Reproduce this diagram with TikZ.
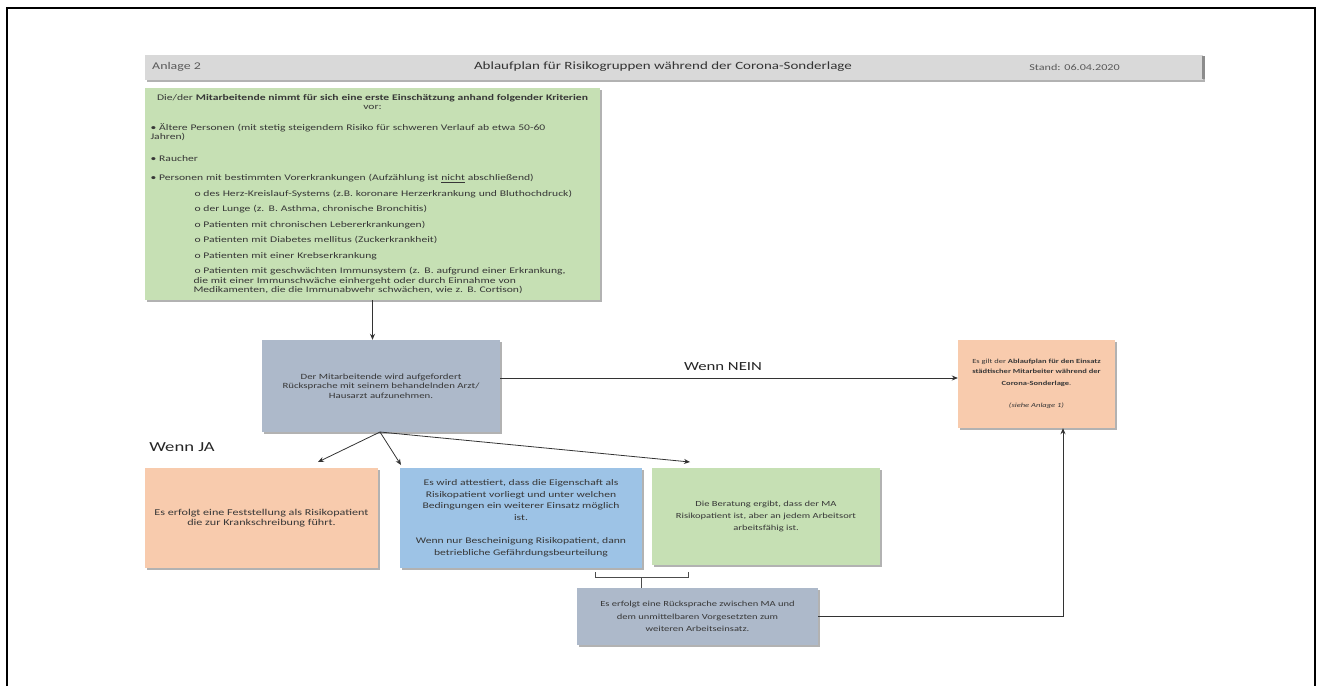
\documentclass[tikz,border=0pt]{standalone}
\usepackage{fontspec}
\setmainfont{Carlito}[FakeStretch=1.35]
\usetikzlibrary{shadows,arrows.meta,calc}
\definecolor{grn}{RGB}{198,224,180}
\definecolor{bgr}{RGB}{173,185,202}
\definecolor{org}{RGB}{248,203,173}
\definecolor{blu}{RGB}{157,195,230}
\definecolor{hdr}{RGB}{217,217,217}
\definecolor{txt}{RGB}{55,55,55}
\newcommand{\fs}[1]{\fontsize{#1}{9.5}\selectfont}
\begin{document}
\begin{tikzpicture}[x=1pt,y=-1pt,
  box/.style={rectangle, inner sep=0pt, align=center, text=txt,
    drop shadow={shadow xshift=2pt, shadow yshift=-2pt, fill=black, opacity=0.3}},
  arr/.style={draw=black!80, line width=0.8pt, -{Stealth[length=6pt,width=5pt]}},
  lne/.style={draw=black!70, line width=0.8pt},
  big/.style={text=black!85, inner sep=0pt}]
\useasboundingbox (0,0) rectangle (1320,686);
\fill[white] (0,0) rectangle (1320,686);
\draw[line width=2pt] (7,686) -- (7,8) -- (1315,8) -- (1315,686);

% header
\node[box, fill=hdr, minimum width=1058pt, minimum height=25pt] (hdr) at (674,67.5) {};
\fill[black!45] (1202,56) rectangle (1205,79);
\node[anchor=west, text=black!65, font=\fontsize{10.3}{11}\selectfont, inner sep=0pt] (anl) at (152,67) {Anlage 2};
\node[text=black!80, font=\fontsize{11.1}{12}\selectfont, inner sep=0pt] (tit) at (663,67) {Ablaufplan für Risikogruppen während der Corona-Sonderlage};
\node[anchor=east, text=black!65, font=\fontsize{9}{10}\selectfont, inner sep=0pt] (std) at (1120,67) {Stand: 06.04.2020};

% top green box
\node[box, fill=grn, minimum width=455pt, minimum height=212pt, text width=444pt, align=left,
  font=\fs{8.6}] (top) at (372.5,194) {%
\makebox[\linewidth][c]{Die/der \textbf{Mitarbeitende nimmt für sich eine erste Einschätzung anhand folgender Kriterien}}\\
\makebox[\linewidth][c]{vor:}\\[11pt]
\textbullet\ Ältere Personen (mit stetig steigendem Risiko für schweren Verlauf ab etwa 50-60\\
Jahren)\\[12pt]
\textbullet\ Raucher\\[10pt]
\textbullet\ Personen mit bestimmten Vorerkrankungen (Aufzählung ist \underline{nicht} abschließend)\\[6pt]
\hspace*{44pt}o des Herz-Kreislauf-Systems (z.B. koronare Herzerkrankung und Bluthochdruck)\\[6pt]
\hspace*{44pt}o der Lunge (z. B. Asthma, chronische Bronchitis)\\[6pt]
\hspace*{44pt}o Patienten mit chronischen Lebererkrankungen)\\[6pt]
\hspace*{44pt}o Patienten mit Diabetes mellitus (Zuckerkrankheit)\\[6pt]
\hspace*{44pt}o Patienten mit einer Krebserkrankung\\[6pt]
\hspace*{44pt}o Patienten mit geschwächten Immunsystem (z. B. aufgrund einer Erkrankung,\\
\hspace*{43pt}die mit einer Immunschwäche einhergeht oder durch Einnahme von\\
\hspace*{43pt}Medikamenten, die die Immunabwehr schwächen, wie z. B. Cortison)};

% middle
\node[box, fill=bgr, minimum width=238pt, minimum height=92pt, font=\fs{8}] (mid) at (381,386)
 {Der Mitarbeitende wird aufgefordert\\Rücksprache mit seinem behandelnden Arzt/\\Hausarzt aufzunehmen.};

\node[box, fill=org, minimum width=157pt, minimum height=88pt, font=\fs{6.3}] (rgt) at (1036.5,384)
 {Es gilt der \textbf{Ablaufplan für den Einsatz}\\\textbf{städtischer Mitarbeiter während der}\\[3pt]\textbf{Corona-Sonderlage}.\\[12pt]\textit{(siehe Anlage 1)}};

\node[box, fill=org, minimum width=233pt, minimum height=100pt, font=\fs{9}] (lft) at (261.5,518)
 {Es erfolgt eine Feststellung als Risikopatient\\die zur Krankschreibung führt.};

\node[box, fill=blu, minimum width=242pt, minimum height=100pt, font=\fontsize{8.6}{11.5}\selectfont] (blu) at (521,518)
 {Es wird attestiert, dass die Eigenschaft als\\Risikopatient vorliegt und unter welchen\\Bedingungen ein weiterer Einsatz möglich\\ist.\\[12pt]Wenn nur Bescheinigung Risikopatient, dann\\betriebliche Gefährdungsbeurteilung};

\node[box, fill=grn, minimum width=228pt, minimum height=97pt, font=\fontsize{7.8}{12}\selectfont] (gr2) at (766,516.5)
 {Die Beratung ergibt, dass der MA\\Risikopatient ist, aber an jedem Arbeitsort\\arbeitsfähig ist.};

\node[box, fill=bgr, minimum width=241pt, minimum height=57pt, font=\fontsize{7.8}{12.5}\selectfont] (bot) at (697.5,616.5)
 {Es erfolgt eine Rücksprache zwischen MA und\\dem unmittelbaren Vorgesetzten zum\\weiteren Arbeitseinsatz.};

% labels
\node[big, font=\fontsize{12.4}{14}\selectfont] (nein) at (723,367) {Wenn NEIN};
\node[big, font=\fontsize{13.8}{15}\selectfont] (ja) at (182,447) {Wenn JA};

% connectors
\draw[arr] (top.south) -- (top.south |- mid.north);
\coordinate (n1) at ([yshift=8pt]mid.east);
\draw[arr] (n1) -- (n1 -| rgt.west);
\coordinate (fk) at (380,432);
\coordinate (a1) at (318,462);
\coordinate (a2) at (401,465);
\coordinate (a3) at (690,462);
\draw[arr] (fk) -- (a1);
\draw[arr] (fk) -- (a2);
\draw[arr] (fk) -- (a3);
\coordinate (b1) at (595,572);
\coordinate (b2) at (688,572);
\coordinate (bm) at (641,577);
\draw[lne] (b1) -- (b1 |- bm) -- (b2 |- bm) -- (b2);
\draw[lne] (bm) -- (bm |- bot.north);
\draw[arr] (bot.east) -| ([xshift=26.5pt]rgt.south);
\end{tikzpicture}
\end{document}
